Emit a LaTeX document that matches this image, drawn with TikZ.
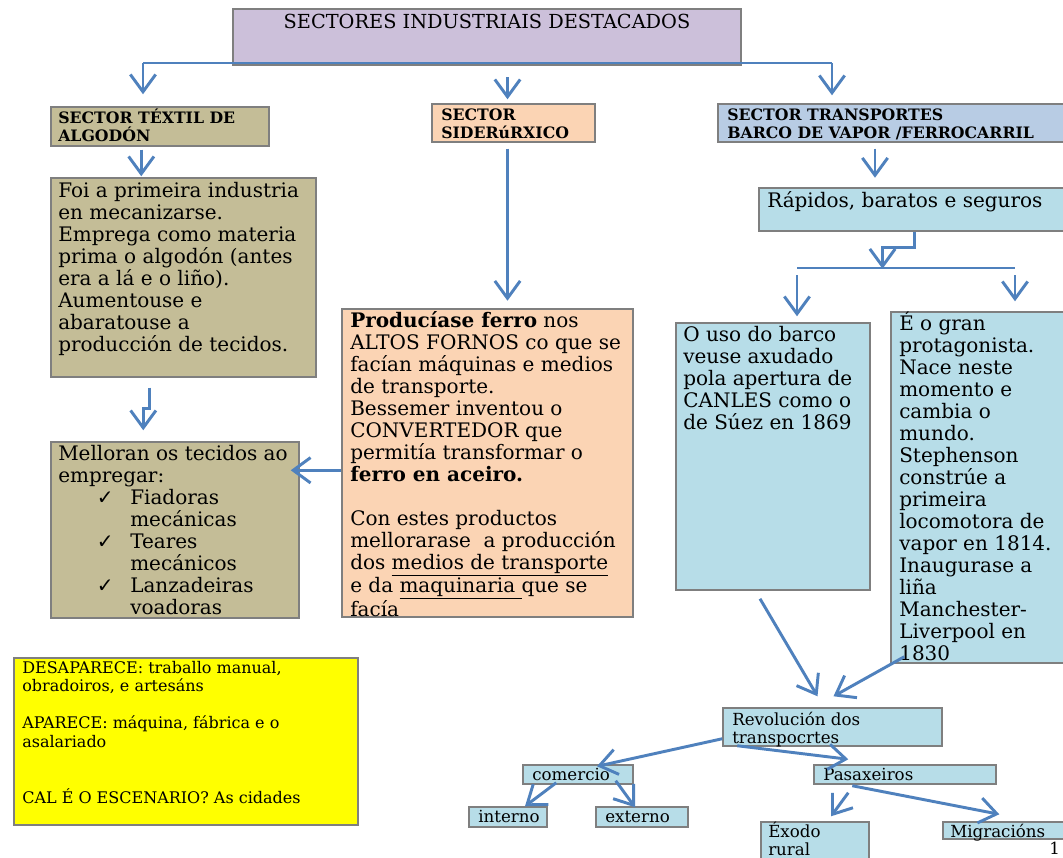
\documentclass[tikz,border=0pt]{standalone}
\usepackage{fontspec}
\setmainfont{DejaVu Serif}
\newfontfamily\marcafont{DejaVu Sans}
\usepackage{tikz}
\usetikzlibrary{fit,arrows.meta,positioning,calc}

\definecolor{azulfrecha}{HTML}{4F81BD}
\definecolor{bordo}{HTML}{7F7F7F}
\definecolor{lila}{HTML}{CCC0DA}
\definecolor{colTextil}{HTML}{C4BD97}
\definecolor{pexego}{HTML}{FBD4B4}
\definecolor{azulsector}{HTML}{B8CCE4}
\definecolor{ceo}{HTML}{B7DDE8}
\definecolor{amarelo}{HTML}{FFFF00}

\newcommand{\visto}{\makebox[54pt][l]{\hspace*{29pt}{\marcafont ✓}}}
\newcommand{\sangria}{\hspace*{54pt}}
\newcommand{\arriba}[1][15pt]{\rule{0pt}{#1}}

\tikzset{
	caixa/.style={draw=bordo, line width=1.1pt, inner sep=0pt},
	texto/.style={anchor=base west, inner sep=0pt, align=left, font=\fontsize{15}{16.5}\selectfont},
	bloque/.style={texto, anchor=north west},
	rotulo/.style={bloque, font=\fontsize{11.8}{13.5}\selectfont\bfseries},
	letrapequena/.style={font=\fontsize{12.5}{13.5}\selectfont},
	pequeno/.style={texto, letrapequena},
	liña/.style={draw=azulfrecha, line width=2.2pt},
	frecha/.style={liña, -{Straight Barb[length=13pt,width=19pt]}},
}

\begin{document}
\begin{tikzpicture}[x=0.75pt, y=-0.75pt]
		\useasboundingbox[fill=white] (0,0) rectangle (1063,857);

		% caixas
		\node[caixa, fill=lila, fit={(233,9) (741,65)}] (titulo) {};
		\node[caixa, fill=colTextil, fit={(51,107) (269,146)}] (textil) {};
		\node[caixa, fill=pexego, fit={(432,104) (595,142)}] (sider) {};
		\node[caixa, fill=azulsector, fit={(718,104) (1070,142)}] (transp) {};
		\node[caixa, fill=colTextil, fit={(51,178) (316,377)}] (foi) {};
		\node[caixa, fill=colTextil, fit={(51,442) (299,618)}] (mellora) {};
		\node[caixa, fill=pexego, fit={(342,309) (633,617)}] (ferro) {};
		\node[caixa, fill=ceo, fit={(759,188) (1070,231)}] (rapidos) {};
		\node[caixa, fill=ceo, fit={(676,323) (870,590)}] (barco) {};
		\node[caixa, fill=ceo, fit={(891,312) (1070,663)}] (ferrocarril) {};
		\node[caixa, fill=amarelo, fit={(14,658) (358,825)}] (cambios) {};
		\node[caixa, fill=ceo, fit={(723,708) (942,746)}] (revol) {};
		\node[caixa, fill=ceo, fit={(523,765) (633,784)}] (comercio) {};
		\node[caixa, fill=ceo, fit={(814,765) (996,784)}] (pasax) {};
		\node[caixa, fill=ceo, fit={(469,807) (547,827)}] (interno) {};
		\node[caixa, fill=ceo, fit={(596,807) (688,827)}] (externo) {};
		\node[caixa, fill=ceo, fit={(761,822) (869,870)}] (exodo) {};
		\node[caixa, fill=ceo, fit={(943,822) (1070,839)}] (migra) {};

		% textos
		\node[texto, anchor=base, font=\fontsize{14.5}{16}\selectfont] (titulo-t) at (487,28) {SECTORES INDUSTRIAIS DESTACADOS};
		\node[rotulo] (textil-t) at (58,107.3) {\arriba[11.8pt]SECTOR TÉXTIL DE\\ALGODÓN};
		\node[rotulo] (sider-t) at (441,104.3) {\arriba[11.8pt]SECTOR\\SIDERúRXICO};
		\node[rotulo] (transp-t) at (727,104.3) {\arriba[11.8pt]SECTOR TRANSPORTES\\BARCO DE VAPOR /FERROCARRIL};
		\node[bloque] (foi-t) at (58,177) {\arriba Foi a primeira industria\\en mecanizarse.\\Emprega como materia\\prima o algodón (antes\\era a lá e o liño).\\Aumentouse e\\abaratouse a\\producción de tecidos.};
		\node[bloque] (mellora-t) at (58,440) {\arriba Melloran os tecidos ao\\empregar:\\
			\visto Fiadoras\\\sangria mecánicas\\
			\visto Teares\\\sangria mecánicos\\
			\visto Lanzadeiras\\\sangria voadoras};
		\node[bloque] (ferro-t) at (350,307) {\arriba\textbf{Producíase ferro} nos\\ALTOS FORNOS co que se\\facían máquinas e medios\\de transporte.\\Bessemer inventou o\\CONVERTEDOR que\\permitía transformar o\\\textbf{ferro en aceiro.}\\[16.5pt]
			Con estes productos\\mellorarase\ \ a producción\\dos \underline{medios de transporte}\\e da \underline{maquinaria }que se\\facía};
		\node[texto] (rapidos-t) at (767,207) {Rápidos, baratos e seguros};
		\node[bloque] (barco-t) at (683,321) {\arriba O uso do barco\\veuse axudado\\pola apertura de\\CANLES como o\\de Súez en 1869};
		\node[bloque] (ferrocarril-t) at (899,310) {\arriba É o gran\\protagonista.\\Nace neste\\momento e\\cambia o\\mundo.\\Stephenson\\constrúe a\\primeira\\locomotora de\\vapor en 1814.\\Inaugurase a\\liña\\Manchester-\\Liverpool en\\1830};
		\node[bloque, font=\fontsize{12}{13.9}\selectfont] (cambios-t) at (22,657) {\arriba[12pt]DESAPARECE: traballo manual,\\obradoiros, e artesáns\\[13.9pt]APARECE: máquina, fábrica e o\\asalariado\\[27.8pt]CAL É O ESCENARIO? As cidades};
		\node[bloque, letrapequena] (revol-t) at (732,708.3) {\arriba[12.5pt]Revolución dos\\transpocrtes};
		\node[pequeno] (comercio-t) at (532,780) {comercio};
		\node[pequeno] (pasax-t) at (823,780) {Pasaxeiros};
		\node[pequeno] (interno-t) at (478,822) {interno};
		\node[pequeno] (externo-t) at (605,822) {externo};
		\node[bloque, letrapequena] (exodo-t) at (768,820.3) {\arriba[12.5pt]Éxodo\\rural};
		\node[pequeno] (migra-t) at (950,837) {Migracións};
		\node[texto, font=\fontsize{12.5}{13}\selectfont] (paxina) at (1049,854) {1};

		% frechas
		\coordinate (ramaE) at (143,63);
		\coordinate (ramaD) at (832,63);
		\draw[liña] (ramaE) -- (ramaD);
		\draw[frecha, shorten >=9pt] (ramaE) -- (ramaE |- textil.north);
		\draw[frecha, shorten >=6pt] (ramaD) -- (ramaD |- transp.north);
		\draw[frecha] ($(sider.north)+(-6,-26)$) -- ($(sider.north)+(-6,-4)$);
		\draw[frecha] ($(textil.south west)+(91,3)$) -- ($(foi.north west)+(91,-1)$);
		\draw[frecha] ($(foi.south west)+(99,10)$) -- ++(0,21) -- ++(-6,0) -- ($(mellora.north west)+(93,-11)$);
		\draw[frecha] ($(sider.south)+(-6,6)$) -- ($(sider.south)+(-6,158)$);
		\draw[frecha] ($(ferro.north west)+(0,162)$) -- ($(mellora.north east)+(-9,29)$);
		\draw[frecha] ($(transp.south)+(-19,6)$) -- ($(transp.south)+(-19,35)$);
		\draw[frecha] (rapidos.south) -- ++(0,16) -- ++(-32,0) -- ++(0,21);
		\coordinate (xuntaE) at (797,268);
		\coordinate (xuntaD) at (1015,268);
		\draw[liña] (xuntaE) -- (xuntaD);
		\draw[frecha, shorten >=4.5pt] ($(xuntaE)+(0,7)$) -- (xuntaE |- barco.north);
		\draw[frecha, shorten >=7.5pt] ($(xuntaD)+(0,7)$) -- (xuntaD |- ferrocarril.north);
		\draw[frecha] ($(barco.south)+(-13,8)$) -- ($(revol.north)+(-15,-11)$);
		\draw[frecha] ($(ferrocarril.south west)+(14,-7)$) -- ($(revol.north)+(1,-11)$);
		\draw[frecha] ($(revol.south west)+(0,-8)$) -- ($(comercio.north)+(19,2)$);
		\draw[frecha] ($(revol.south west)+(15,-1)$) -- ($(pasax.north west)+(35,-5)$);
		\draw[frecha] ($(comercio.south west)+(34,-2)$) -- ($(interno.north)+(17,0)$);
		\draw[frecha] ($(comercio.south east)+(-18,-4)$) -- ($(externo.north)+(-7,1)$);
		\draw[frecha] ($(pasax.south west)+(35,8)$) -- ($(exodo.north)+(16,-5)$);
		\draw[frecha] ($(pasax.south west)+(39,1)$) -- ($(migra.north west)+(57,-7)$);
	\end{tikzpicture}
\end{document}
